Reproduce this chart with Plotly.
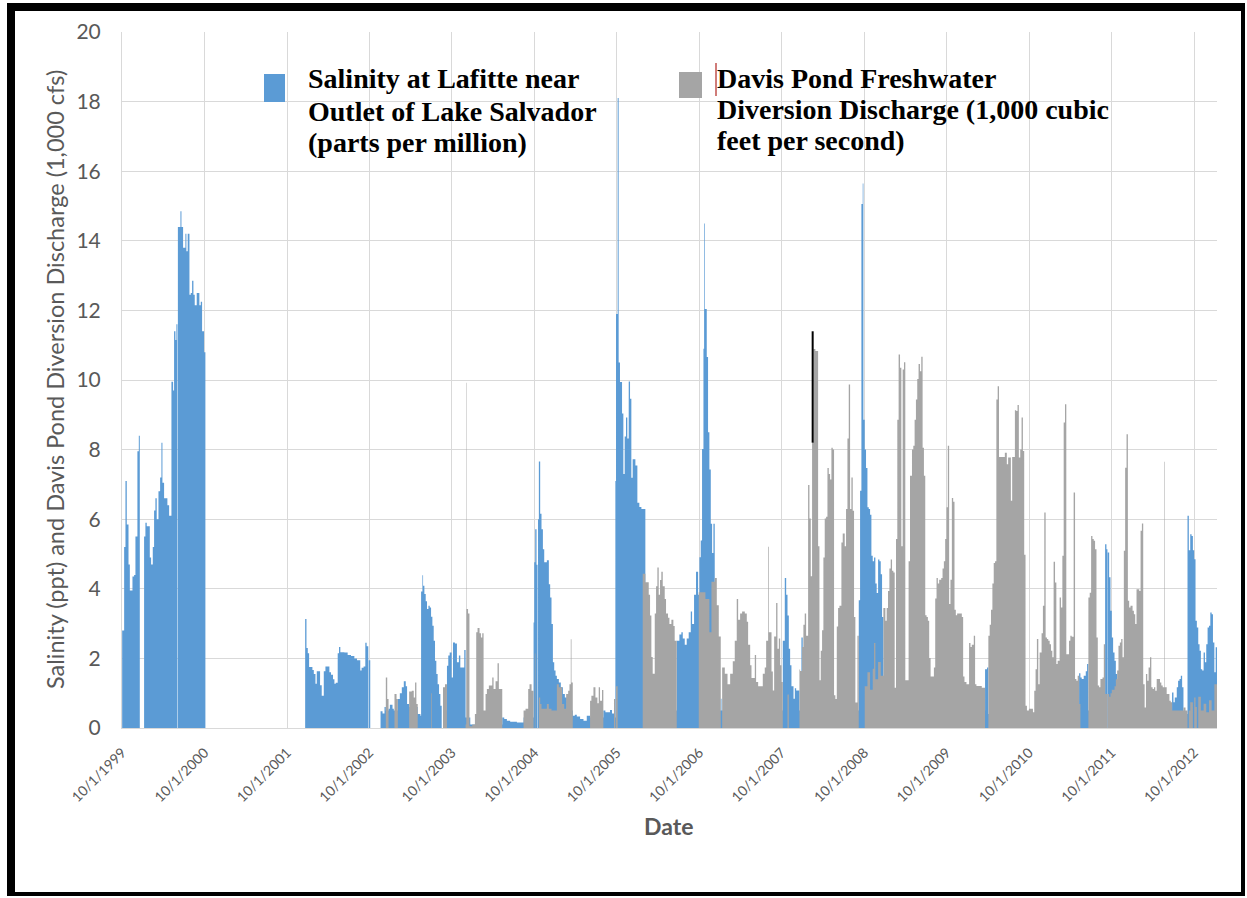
import plotly.graph_objects as go
from datetime import datetime

# ---------------- data (time in decimal years, value at start of each step) ----------------
sal_time = [
    1999.750, 1999.774, 1999.790, 1999.806, 1999.827, 1999.843, 1999.875, 1999.895,
    1999.911, 1999.935, 1999.952, 1999.964, 2000.016, 2000.032, 2000.048, 2000.085,
    2000.101, 2000.121, 2000.137, 2000.153, 2000.169, 2000.190, 2000.210, 2000.226,
    2000.238, 2000.258, 2000.298, 2000.319, 2000.347, 2000.367, 2000.379, 2000.395,
    2000.407, 2000.419, 2000.425, 2000.456, 2000.468, 2000.488, 2000.516, 2000.528,
    2000.544, 2000.565, 2000.581, 2000.597, 2000.613, 2000.629, 2000.653, 2000.685,
    2000.702, 2000.718, 2000.742, 2000.758, 2001.968, 2001.984, 2002.000, 2002.016,
    2002.056, 2002.073, 2002.093, 2002.109, 2002.149, 2002.169, 2002.194, 2002.214,
    2002.262, 2002.282, 2002.306, 2002.323, 2002.339, 2002.363, 2002.379, 2002.395,
    2002.444, 2002.484, 2002.524, 2002.565, 2002.597, 2002.637, 2002.653, 2002.677,
    2002.698, 2002.714, 2002.734, 2002.740, 2002.758, 2002.883, 2002.907, 2002.931,
    2002.947, 2002.980, 2002.996, 2003.028, 2003.044, 2003.093, 2003.117, 2003.141,
    2003.165, 2003.189, 2003.205, 2003.230, 2003.334, 2003.367, 2003.375, 2003.391,
    2003.399, 2003.415, 2003.431, 2003.447, 2003.464, 2003.480, 2003.496, 2003.512,
    2003.528, 2003.544, 2003.560, 2003.576, 2003.593, 2003.609, 2003.625, 2003.641,
    2003.689, 2003.705, 2003.722, 2003.746, 2003.762, 2003.786, 2003.810, 2003.834,
    2003.851, 2003.899, 2003.915, 2003.972, 2004.359, 2004.383, 2004.415, 2004.455,
    2004.536, 2004.617, 2004.738, 2004.746, 2004.758, 2004.774, 2004.786, 2004.792,
    2004.802, 2004.818, 2004.834, 2004.851, 2004.867, 2004.899, 2004.923, 2004.939,
    2004.955, 2004.972, 2004.988, 2005.004, 2005.020, 2005.044, 2005.068, 2005.093,
    2005.117, 2005.141, 2005.213, 2005.238, 2005.262, 2005.302, 2005.343, 2005.383,
    2005.423, 2005.584, 2005.609, 2005.665, 2005.689, 2005.713, 2005.730, 2005.738,
    2005.758, 2005.770, 2005.786, 2005.811, 2005.827, 2005.843, 2005.859, 2005.875,
    2005.892, 2005.908, 2005.924, 2005.940, 2005.973, 2005.997, 2006.021, 2006.046,
    2006.094, 2006.475, 2006.507, 2006.531, 2006.548, 2006.572, 2006.596, 2006.620,
    2006.645, 2006.661, 2006.685, 2006.709, 2006.734, 2006.750, 2006.766, 2006.782,
    2006.799, 2006.807, 2006.815, 2006.839, 2006.855, 2006.871, 2006.888, 2006.904,
    2006.920, 2006.936, 2007.009, 2007.018, 2007.762, 2007.786, 2007.803, 2007.819,
    2007.835, 2007.851, 2007.867, 2007.892, 2007.908, 2007.924, 2007.964, 2007.988,
    2008.004, 2008.682, 2008.698, 2008.714, 2008.730, 2008.738, 2008.754, 2008.770,
    2008.787, 2008.803, 2008.819, 2008.835, 2008.851, 2008.867, 2008.883, 2008.899,
    2008.916, 2008.932, 2008.948, 2008.964, 2008.980, 2010.214, 2010.238, 2010.254,
    2011.355, 2011.371, 2011.387, 2011.411, 2011.436, 2011.452, 2011.468, 2011.671,
    2011.687, 2011.695, 2011.699, 2011.703, 2011.720, 2011.736, 2011.752, 2011.768,
    2011.785, 2011.801, 2011.817, 2012.482, 2012.499, 2012.515, 2012.539, 2012.555,
    2012.572, 2012.588, 2012.604, 2012.620, 2012.669, 2012.685, 2012.702, 2012.718,
    2012.734, 2012.750, 2012.766, 2012.782, 2012.799, 2012.815, 2012.831, 2012.847,
    2012.864, 2012.880, 2012.896, 2012.912, 2012.929, 2012.945, 2012.961, 2012.977,
    2012.994, 2013.010,
]
sal_value = [
    2.8, 5.2, 7.1, 5.85, 4.7, 3.95, 4.35, 4.4,
    5.5, 7.95, 8.4, 0, 5.5, 5.9, 5.8, 4.9,
    4.7, 5.2, 6.25, 6.6, 6.0, 6.8, 7.2, 8.2,
    7.05, 6.6, 6.4, 6.1, 9.95, 9.7, 11.4, 11.15,
    11.6, 0, 14.4, 14.85, 14.4, 13.8, 14.2, 13.7,
    14.2, 12.45, 12.5, 12.85, 12.45, 12.15, 12.5, 12.15,
    12.25, 11.4, 10.8, 0, 3.13, 2.3, 2.15, 1.75,
    1.67, 1.55, 1.27, 1.63, 1.23, 0.93, 1.63, 1.77,
    1.6, 1.53, 1.4, 1.27, 1.3, 2.15, 2.33, 2.18,
    2.17, 2.1, 2.07, 2.0, 1.95, 1.65, 1.73, 1.77,
    2.45, 2.35, 0, 1.95, 0, 0.48, 0.42, 0.6,
    0.5, 0.55, 0.67, 0.55, 0.5, 0.83, 1.0, 1.17,
    1.34, 1.2, 0.69, 0.6, 0.4, 0.35, 3.92, 4.39,
    4.09, 3.85, 3.64, 3.42, 3.51, 3.46, 3.2, 2.94,
    2.51, 1.93, 1.55, 1.26, 0.98, 0.64, 0, 0.5,
    1.79, 2.08, 2.17, 1.45, 2.46, 2.43, 1.89, 2.08,
    1.74, 2.24, 0.3, 0.1, 0.3, 0.26, 0.21, 0.18,
    0.16, 0.3, 3.03, 4.76, 5.71, 4.69, 0, 6.0,
    7.66, 6.16, 5.71, 5.14, 4.76, 4.82, 4.13, 3.75,
    2.99, 1.89, 1.65, 1.5, 1.41, 1.31, 1.17, 0.98,
    0.88, 0.5, 0.35, 0.38, 0.33, 0.26, 0.21, 0.35,
    0.3, 0.5, 0.45, 0.52, 0.42, 0.3, 7.1, 11.9,
    18.1, 10.5, 9.94, 9.04, 7.3, 8.38, 8.92, 8.32,
    9.96, 9.46, 7.19, 7.72, 7.54, 6.47, 6.35, 6.29,
    0.5, 2.51, 2.69, 2.75, 2.57, 2.39, 2.57, 2.75,
    3.35, 2.99, 3.83, 4.49, 3.83, 4.91, 5.39, 8.02,
    10.9, 14.5, 12.04, 10.66, 8.5, 7.43, 5.87, 5.03,
    5.87, 0.5, 0.84, 0.5, 2.51, 4.31, 3.83, 3.23,
    2.28, 1.8, 1.2, 0.84, 1.14, 1.08, 0.5, 2.6,
    0.5, 3.67, 6.82, 15.06, 15.65, 8.86, 8.0, 7.47,
    6.34, 6.29, 6.13, 4.95, 4.79, 4.9, 4.15, 3.88,
    4.84, 4.79, 4.42, 3.19, 0.5, 1.69, 1.74, 0.4,
    1.57, 1.45, 1.41, 1.5, 1.63, 1.84, 0.5, 5.28,
    5.14, 0, 5.14, 5.04, 4.33, 3.37, 2.6, 2.17,
    1.93, 1.55, 0.4, 1.02, 0.74, 0.88, 1.17, 1.36,
    1.41, 1.5, 1.17, 0.4, 6.1, 5.11, 5.57, 5.52,
    5.11, 4.85, 3.08, 2.89, 2.41, 2.22, 1.69, 1.65,
    2.17, 1.89, 2.41, 2.89, 2.94, 3.32, 3.27, 2.46,
    1.6, 2.32,
]

dis_time = [
    1999.750, 2002.947, 2002.964, 2002.980, 2003.052, 2003.077, 2003.093, 2003.230,
    2003.262, 2003.286, 2003.302, 2003.318, 2003.334, 2003.496, 2003.504, 2003.641,
    2003.665, 2003.689, 2003.915, 2003.923, 2003.928, 2003.945, 2003.962, 2003.996,
    2004.028, 2004.044, 2004.060, 2004.084, 2004.101, 2004.117, 2004.133, 2004.157,
    2004.173, 2004.197, 2004.238, 2004.254, 2004.278, 2004.302, 2004.318, 2004.359,
    2004.617, 2004.641, 2004.673, 2004.689, 2004.714, 2004.738, 2004.754, 2004.760,
    2004.802, 2004.818, 2004.834, 2004.899, 2004.923, 2004.955, 2005.020, 2005.044,
    2005.084, 2005.109, 2005.133, 2005.157, 2005.173, 2005.189, 2005.197, 2005.213,
    2005.423, 2005.439, 2005.464, 2005.488, 2005.512, 2005.528, 2005.544, 2005.568,
    2005.584, 2005.713, 2005.730, 2005.738, 2005.758, 2006.062, 2006.094, 2006.135,
    2006.151, 2006.167, 2006.183, 2006.208, 2006.224, 2006.240, 2006.256, 2006.272,
    2006.288, 2006.305, 2006.329, 2006.345, 2006.369, 2006.386, 2006.410, 2006.434,
    2006.450, 2006.475, 2006.742, 2006.823, 2006.871, 2006.896, 2006.936, 2006.961,
    2006.985, 2007.009, 2007.026, 2007.058, 2007.091, 2007.123, 2007.155, 2007.179,
    2007.203, 2007.220, 2007.244, 2007.268, 2007.301, 2007.325, 2007.341, 2007.366,
    2007.382, 2007.422, 2007.438, 2007.463, 2007.519, 2007.543, 2007.560, 2007.584,
    2007.592, 2007.625, 2007.641, 2007.657, 2007.681, 2007.697, 2007.714, 2007.730,
    2007.746, 2007.762, 2007.819, 2007.835, 2007.964, 2007.972, 2007.996, 2008.012,
    2008.028, 2008.045, 2008.069, 2008.085, 2008.101, 2008.117, 2008.133, 2008.157,
    2008.190, 2008.206, 2008.222, 2008.238, 2008.254, 2008.270, 2008.287, 2008.303,
    2008.319, 2008.335, 2008.351, 2008.367, 2008.383, 2008.399, 2008.416, 2008.432,
    2008.448, 2008.472, 2008.488, 2008.512, 2008.528, 2008.545, 2008.561, 2008.577,
    2008.593, 2008.609, 2008.625, 2008.641, 2008.666, 2008.682, 2008.754, 2008.787,
    2008.819, 2008.851, 2008.867, 2008.883, 2008.916, 2008.948, 2008.980, 2009.004,
    2009.020, 2009.036, 2009.053, 2009.069, 2009.085, 2009.101, 2009.117, 2009.133,
    2009.149, 2009.165, 2009.182, 2009.198, 2009.214, 2009.230, 2009.246, 2009.286,
    2009.303, 2009.327, 2009.343, 2009.359, 2009.375, 2009.391, 2009.407, 2009.424,
    2009.440, 2009.456, 2009.472, 2009.488, 2009.504, 2009.520, 2009.536, 2009.553,
    2009.593, 2009.609, 2009.625, 2009.641, 2009.657, 2009.682, 2009.698, 2009.714,
    2009.730, 2009.746, 2009.762, 2009.778, 2009.794, 2009.811, 2009.827, 2009.843,
    2009.859, 2009.875, 2009.932, 2009.948, 2009.964, 2009.988, 2010.020, 2010.037,
    2010.053, 2010.077, 2010.093, 2010.109, 2010.174, 2010.214, 2010.254, 2010.270,
    2010.286, 2010.303, 2010.319, 2010.335, 2010.351, 2010.367, 2010.383, 2010.454,
    2010.478, 2010.494, 2010.527, 2010.543, 2010.576, 2010.592, 2010.608, 2010.624,
    2010.641, 2010.657, 2010.673, 2010.689, 2010.705, 2010.722, 2010.746, 2010.795,
    2010.811, 2010.827, 2010.843, 2010.860, 2010.876, 2010.900, 2010.916, 2010.933,
    2010.949, 2010.965, 2010.981, 2010.998, 2011.014, 2011.030, 2011.046, 2011.063,
    2011.079, 2011.095, 2011.119, 2011.135, 2011.152, 2011.168, 2011.184, 2011.200,
    2011.233, 2011.249, 2011.265, 2011.289, 2011.306, 2011.322, 2011.338, 2011.355,
    2011.371, 2011.468, 2011.484, 2011.501, 2011.517, 2011.533, 2011.549, 2011.566,
    2011.582, 2011.598, 2011.614, 2011.639, 2011.655, 2011.671, 2011.695, 2011.699,
    2011.720, 2011.736, 2011.752, 2011.785, 2011.801, 2011.817, 2011.833, 2011.850,
    2011.866, 2011.882, 2011.898, 2011.914, 2011.931, 2011.947, 2011.963, 2011.979,
    2012.004, 2012.020, 2012.036, 2012.052, 2012.085, 2012.101, 2012.117, 2012.133,
    2012.150, 2012.166, 2012.182, 2012.198, 2012.215, 2012.231, 2012.247, 2012.263,
    2012.279, 2012.296, 2012.336, 2012.352, 2012.369, 2012.385, 2012.391, 2012.417,
    2012.450, 2012.466, 2012.482, 2012.620, 2012.645, 2012.669, 2012.685, 2012.702,
    2012.734, 2012.750, 2012.766, 2012.782, 2012.799, 2012.831, 2012.864, 2012.896,
    2012.929, 2012.961, 2012.994,
]
dis_value = [
    0, 1.45, 0.83, 0, 0.98, 0.83, 0, 1.05,
    1.07, 0.88, 1.31, 0.69, 0, 1.0, 0, 1.17,
    1.26, 0, 0.1, 9.92, 3.42, 3.29, 0.05, 0.1,
    0.4, 2.75, 2.87, 2.72, 2.6, 2.72, 0.5, 0.98,
    1.12, 1.22, 1.45, 1.12, 1.34, 1.86, 1.12, 0,
    0.5, 0.55, 1.12, 1.26, 1.07, 0, 2.14, 0,
    0.88, 0.69, 0.55, 0.69, 0.55, 0.5, 1.26, 1.17,
    0.69, 0.55, 0.98, 1.07, 1.26, 2.55, 1.31, 0,
    0.78, 0.93, 1.17, 0.88, 0.71, 1.17, 0.78, 1.09,
    0, 0.83, 0, 1.2, 0, 4.43, 4.19, 3.83,
    3.23, 2.04, 1.56, 3.29, 4.07, 4.61, 3.83, 4.25,
    4.49, 4.07, 3.71, 3.29, 3.17, 2.99, 3.11, 2.93,
    2.51, 0, 3.9, 3.71, 2.75, 4.2, 4.31, 3.53,
    2.63, 0, 1.74, 1.56, 1.26, 1.56, 1.92, 2.51,
    3.71, 3.11, 3.29, 3.35, 3.29, 3.05, 2.39, 1.8,
    1.44, 2.1, 1.32, 1.2, 1.56, 1.74, 2.51, 5.21,
    2.75, 1.62, 1.08, 2.63, 3.59, 2.28, 2.57, 1.8,
    1.32, 0, 0.96, 0, 1.68, 1.64, 2.33, 2.97,
    3.29, 2.65, 6.98, 6.02, 4.36, 8.21, 10.89, 10.83,
    5.22, 1.37, 2.22, 2.81, 4.9, 6.02, 6.07, 7.47,
    7.3, 7.14, 8.05, 8.0, 0.94, 0.83, 2.92, 3.45,
    3.51, 5.33, 5.59, 5.22, 6.29, 8.32, 9.87, 6.29,
    7.2, 6.24, 3.19, 0.73, 2.65, 0, 1.2, 1.6,
    1.1, 1.7, 2.44, 1.4, 1.9, 1.5, 3.45, 3.08,
    3.45, 3.94, 4.58, 4.84, 4.52, 4.47, 1.16, 5.43,
    8.86, 10.73, 10.35, 5.22, 10.3, 10.51, 1.37, 4.79,
    7.25, 8.0, 8.11, 8.86, 9.44, 10.03, 10.46, 10.25,
    10.67, 8.05, 7.25, 3.24, 3.19, 3.08, 2.01, 1.48,
    1.74, 3.72, 4.31, 4.15, 4.26, 4.31, 4.58, 4.79,
    5.43, 6.34, 8.11, 3.56, 4.26, 6.61, 6.5, 3.4,
    3.24, 3.29, 3.19, 1.48, 1.32, 1.26, 2.44, 2.33,
    2.39, 2.65, 1.26, 1.21, 1.16, 0, 2.65, 2.97,
    3.4, 4.15, 4.74, 4.79, 9.44, 9.82, 7.79, 7.91,
    7.58, 7.77, 6.53, 7.79, 9.13, 9.11, 9.28, 7.77,
    8.0, 8.92, 7.96, 4.98, 0.64, 0.5, 0.55, 0.45,
    1.07, 1.69, 2.56, 1.26, 2.17, 2.72, 3.51, 6.19,
    2.6, 2.56, 2.51, 2.41, 2.22, 2.03, 4.78, 4.18,
    1.84, 1.93, 3.75, 3.46, 4.95, 8.78, 9.3, 2.12,
    2.51, 2.65, 2.62, 6.77, 1.41, 1.36, 1.5, 0.69,
    0, 3.75, 3.89, 5.52, 5.43, 5.38, 5.14, 2.6,
    1.22, 1.17, 1.41, 1.45, 2.41, 0.98, 0, 0.98,
    0.9, 1.0, 1.1, 1.2, 1.4, 1.65, 2.36, 2.46,
    2.56, 2.03, 5.09, 7.48, 8.44, 3.66, 3.46, 3.51,
    3.37, 3.27, 2.99, 3.99, 3.94, 5.67, 5.88, 1.26,
    0.59, 1.55, 1.36, 1.74, 2.03, 1.17, 1.12, 1.17,
    1.07, 1.41, 1.31, 1.22, 1.17, 7.65, 1.17, 0.98,
    0.78, 0.74, 0.5, 0.59, 0.5, 0, 0.5, 0.74,
    0, 0.88, 0.6, 0, 0.9, 0.5, 0.7, 0.45,
    0.8, 0.5, 1.26,
]
series_end = 2013.026

# a stray black mark on the discharge bar in early 2008 (as in the source image)
mark_time = 2008.124
mark_low, mark_high = 8.2, 11.4

tick_dates = ["1999-10-01", "2000-10-01", "2001-10-01", "2002-10-01", "2003-10-01",
              "2004-10-01", "2005-10-01", "2006-10-01", "2007-10-01", "2008-10-01",
              "2009-10-01", "2010-10-01", "2011-10-01", "2012-10-01"]
tick_labels = ["10/1/1999", "10/1/2000", "10/1/2001", "10/1/2002", "10/1/2003",
               "10/1/2004", "10/1/2005", "10/1/2006", "10/1/2007", "10/1/2008",
               "10/1/2009", "10/1/2010", "10/1/2011", "10/1/2012"]

sal_name = "Salinity at Lafitte near Outlet of Lake Salvador (parts per million)"
dis_name = "Davis Pond Freshwater Diversion Discharge (1,000 cubic feet per second)"
sal_legend = ["Salinity at Lafitte near", "Outlet of Lake Salvador", "(parts per million)"]
dis_legend = ["Davis Pond Freshwater", "Diversion Discharge (1,000 cubic", "feet per second)"]

assert len(sal_time) == len(sal_value)
assert len(dis_time) == len(dis_value)

BLUE = "#5B9BD5"
GRAY = "#A5A5A5"
GRID = "#D9D9D9"
TXT = "#595959"


def dy(t):
    y = int(t)
    a, b = datetime(y, 1, 1), datetime(y + 1, 1, 1)
    return a + (b - a) * (t - y)


def steps(times, values):
    xs = [dy(t) for t in times] + [dy(series_end)]
    ys = list(values) + [values[-1]]
    return xs, ys


# ---------------- layout geometry ----------------
W, H = 1247, 898
L, R, T, B = 122, 30, 32, 170
PW, PH = W - L - R, H - T - B


def px(x):
    return (x - L) / PW


def py(y):
    return (H - B - y) / PH


fig = go.Figure()
sx, sy = steps(sal_time, sal_value)
fig.add_trace(go.Scatter(x=sx, y=sy, mode="lines", name=sal_name,
                         line=dict(width=0, shape="hv", color=BLUE),
                         fill="tozeroy", fillcolor=BLUE, hoverinfo="skip"))
dx, dyv = steps(dis_time, dis_value)
fig.add_trace(go.Scatter(x=dx, y=dyv, mode="lines", name=dis_name,
                         line=dict(width=0, shape="hv", color=GRAY),
                         fill="tozeroy", fillcolor=GRAY, hoverinfo="skip"))
fig.add_trace(go.Scatter(x=[dy(mark_time), dy(mark_time)], y=[mark_low, mark_high],
                         mode="lines", line=dict(color="black", width=2),
                         hoverinfo="skip", showlegend=False))

shapes = []
# white areas behind the legend (hide the gridlines there)
for (x0, x1, y0, y1) in [(235, 300, 53, 122), (300, 617, 98, 105), (673, 1113, 98, 105)]:
    shapes.append(dict(type="rect", xref="paper", yref="paper", layer="between",
                       x0=px(x0), x1=px(x1), y0=py(y1), y1=py(y0),
                       fillcolor="white", line=dict(width=0)))
# legend swatches
shapes.append(dict(type="rect", xref="paper", yref="paper", layer="above",
                   x0=px(264), x1=px(285), y0=py(102), y1=py(74),
                   fillcolor=BLUE, line=dict(width=0)))
shapes.append(dict(type="rect", xref="paper", yref="paper", layer="above",
                   x0=px(679), x1=px(702), y0=py(98), y1=py(72),
                   fillcolor=GRAY, line=dict(width=0)))
# small text cursor next to second legend entry
shapes.append(dict(type="line", xref="paper", yref="paper", layer="above",
                   x0=px(716), x1=px(716), y0=py(96), y1=py(63),
                   line=dict(color="#C0504D", width=1.5)))
# black frame around the chart
for (x0, x1, y0, y1) in [(7, 15, 3, 896), (7, 1245, 3, 11), (1241, 1245, 3, 896), (7, 1245, 892, 896)]:
    shapes.append(dict(type="rect", xref="paper", yref="paper", layer="above",
                       x0=px(x0), x1=px(x1), y0=py(y1), y1=py(y0),
                       fillcolor="black", line=dict(width=0)))

annotations = [
    dict(text="Salinity (ppt) and Davis Pond Diversion Discharge (1,000 cfs)",
         xref="paper", yref="paper", x=px(55), y=py(380), textangle=-90,
         xanchor="center", yanchor="middle",
         showarrow=False, font=dict(family="Lato", size=23.5, color=TXT)),
    dict(text="<b>Date</b>", xref="paper", yref="paper", x=px(668), y=py(826),
         xanchor="center", yanchor="middle",
         showarrow=False, font=dict(family="Lato", size=23, color=TXT)),
]
for i, line in enumerate(sal_legend):
    annotations.append(dict(text="<b>" + line + "</b>", xref="paper", yref="paper",
                            x=px(306), y=py(79 + 32 * i), xanchor="left", yanchor="middle",
                            showarrow=False,
                            font=dict(family="Liberation Serif", size=28, color="black")))
for i, line in enumerate(dis_legend):
    annotations.append(dict(text="<b>" + line + "</b>", xref="paper", yref="paper",
                            x=px(715), y=py(78 + 31 * i), xanchor="left", yanchor="middle",
                            showarrow=False,
                            font=dict(family="Liberation Serif", size=28, color="black")))

fig.update_layout(
    width=W, height=H, autosize=False,
    margin=dict(l=L, r=R, t=T, b=B, pad=0),
    paper_bgcolor="white", plot_bgcolor="white",
    showlegend=False,
    shapes=shapes, annotations=annotations,
    xaxis=dict(type="date", range=[datetime(1999, 10, 1), dy(series_end)],
               tickmode="array", tickvals=tick_dates, ticktext=tick_labels,
               tickangle=-45, ticks="", ticklabelstandoff=10,
               tickfont=dict(family="Lato", size=14, color=TXT),
               showgrid=True, gridcolor=GRID, gridwidth=1,
               showline=True, linecolor=GRID, linewidth=1, zeroline=False),
    yaxis=dict(range=[0, 20], tick0=0, dtick=2, ticks="", ticklabelstandoff=16,
               tickfont=dict(family="Lato", size=21, color=TXT),
               showgrid=True, gridcolor=GRID, gridwidth=1,
               showline=True, linecolor=GRID, linewidth=1, zeroline=False),
)

fig.write_html("out.html", config={"displayModeBar": False},
               post_script="document.body.style.margin='0px';")
